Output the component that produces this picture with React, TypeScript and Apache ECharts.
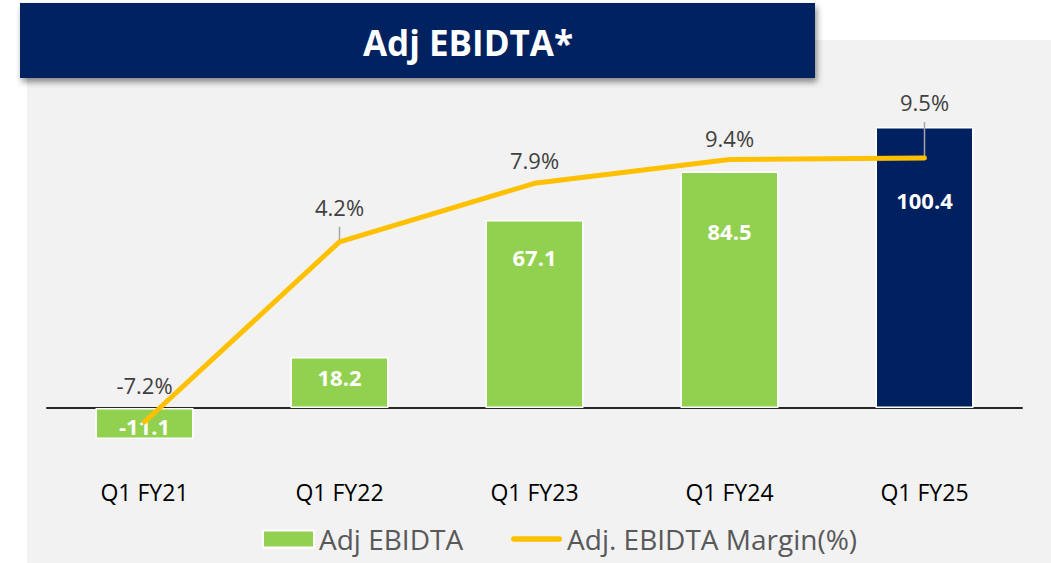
import React, { useEffect, useRef } from "react";
import * as echarts from "echarts";

const categories = ["Q1 FY21", "Q1 FY22", "Q1 FY23", "Q1 FY24", "Q1 FY25"];
const adjEbitda = [-11.1, 18.2, 67.1, 84.5, 100.4];
const marginPct = [-7.2, 4.2, 7.9, 9.4, 9.5];
const highlightIndex = 4;

// label placement (styles, not data)
const barLabelDistance = [7, 9, 26, 49, 62];
const marginLabelRise = [37, 35, 23, 22, 56];

const FONT = "'Open Sans', sans-serif";

export default function App() {
  const ref = useRef<HTMLDivElement>(null);

  useEffect(() => {
    const chart = echarts.init(ref.current!, null, { renderer: "svg" });
    chart.setOption({
      animation: false,
      backgroundColor: "#ffffff",
      textStyle: { fontFamily: FONT },
      graphic: [
        {
          type: "rect",
          z: -10,
          shape: { x: 27, y: 40, width: 1030, height: 530 },
          style: { fill: "#f2f2f2" },
          silent: true,
        },
        {
          type: "rect",
          z: 10,
          shape: { x: 20, y: 3, width: 795, height: 75 },
          style: {
            fill: "#002060",
            shadowBlur: 6,
            shadowOffsetX: 2,
            shadowOffsetY: 4,
            shadowColor: "rgba(0,0,0,0.45)",
          },
          silent: true,
        },
        {
          type: "text",
          z: 11,
          x: 468,
          y: 42,
          style: {
            text: "Adj EBIDTA*",
            fill: "#ffffff",
            fontFamily: FONT,
            fontWeight: "bold",
            fontSize: 35,
            align: "center",
            verticalAlign: "middle",
          },
          silent: true,
        },
      ],
      grid: { left: 47, right: 29, top: 100, bottom: 113, containLabel: false },
      legend: {
        left: 257,
        top: 520,
        itemWidth: 51,
        itemHeight: 17,
        itemGap: 48,
        textStyle: { fontSize: 28, color: "#595959", fontFamily: FONT },
        data: [
          { name: "Adj EBIDTA", icon: "rect" },
          {
            name: "Adj. EBIDTA Margin(%)",
            icon: "path://M3,0 H53 A3,3 0 0 1 53,6 H3 A3,3 0 0 1 3,0 Z",
            itemStyle: { color: "#FFC000" },
          },
        ],
      },
      xAxis: [
        {
          type: "category",
          data: categories,
          axisLine: { onZero: true, lineStyle: { color: "#262626", width: 2 } },
          axisTick: { show: false },
          axisLabel: { show: false },
          splitLine: { show: false },
        },
        {
          type: "category",
          data: categories,
          position: "bottom",
          axisLine: { show: false, onZero: false },
          axisTick: { show: false },
          axisLabel: { margin: 30, color: "#000000", fontSize: 23, fontFamily: FONT },
          splitLine: { show: false },
        },
      ],
      yAxis: [
        { type: "value", min: -15, max: 110, show: false, splitLine: { show: false } },
        { type: "value", min: -8.97, max: 13.17, show: false, splitLine: { show: false } },
      ],
      series: [
        {
          name: "Adj EBIDTA",
          type: "bar",
          xAxisIndex: 0,
          yAxisIndex: 0,
          barWidth: 98,
          z: 2,
          itemStyle: { color: "#92D050", borderColor: "#ffffff", borderWidth: 1.5 },
          label: {
            show: true,
            position: "insideTop",
            color: "#ffffff",
            fontWeight: "bold",
            fontSize: 22,
            fontFamily: FONT,
            formatter: (p: any) => Number(p.value).toFixed(1),
          },
          data: adjEbitda.map((v, i) => ({
            value: v,
            itemStyle: { color: i === highlightIndex ? "#002060" : "#92D050" },
            label: { distance: barLabelDistance[i] },
          })),
        },
        {
          type: "custom",
          xAxisIndex: 0,
          yAxisIndex: 1,
          z: 3,
          silent: true,
          data: marginPct.map((v, i) => [i, v]),
          renderItem: (params: any, api: any) => {
            const i = params.dataIndex;
            const v = api.value(1);
            const p = api.coord([api.value(0), v]);
            const rise = marginLabelRise[i];
            const children: any[] = [];
            if (i > 0 && rise - 20 > 3) {
              children.push({
                type: "line",
                shape: { x1: p[0], y1: p[1], x2: p[0], y2: p[1] - rise + 20 },
                style: { stroke: "#a6a6a6", lineWidth: 1.5 },
              });
            }
            children.push({
              type: "text",
              style: {
                text: v.toFixed(1) + "%",
                x: p[0],
                y: p[1] - rise,
                align: "center",
                verticalAlign: "middle",
                fill: "#404040",
                fontSize: 22,
                fontFamily: FONT,
              },
            });
            return { type: "group", children };
          },
        },
        {
          name: "Adj. EBIDTA Margin(%)",
          type: "line",
          xAxisIndex: 0,
          yAxisIndex: 1,
          z: 4,
          symbol: "none",
          color: "#FFC000",
          lineStyle: { color: "#FFC000", width: 5, cap: "round", join: "round" },
          itemStyle: { color: "#FFC000" },
          data: marginPct,
        },
      ],
    });
    return () => chart.dispose();
  }, []);

  return (
    <div
      ref={ref}
      style={{ position: "fixed", left: 0, top: 0, width: 1051, height: 563 }}
    />
  );
}
